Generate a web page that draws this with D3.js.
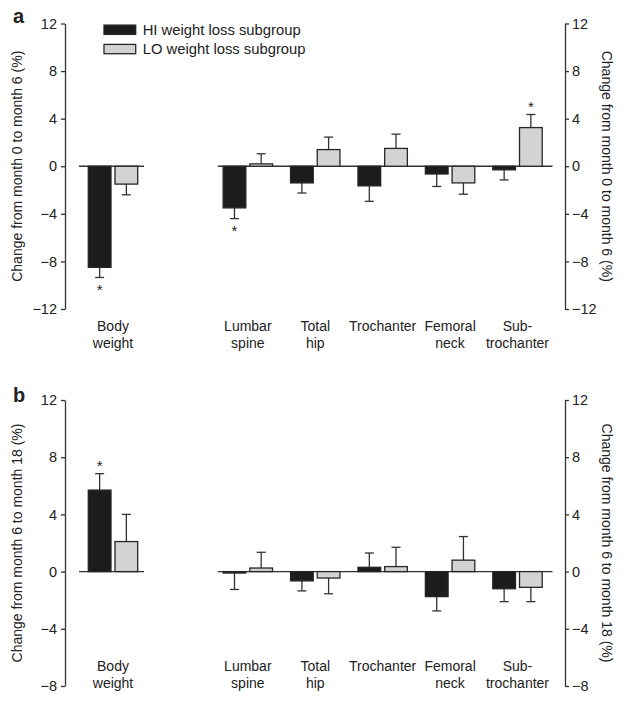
<!DOCTYPE html>
<html lang="en">
<head>
  <meta charset="UTF-8">
  <script src="https://cdnjs.cloudflare.com/ajax/libs/d3/7.8.5/d3.min.js"></script>
  <title>Weight loss subgroups</title>
  <style>
    body { margin: 0; background: #fff; }
    text { font-family: "Liberation Sans", Arial, Helvetica, sans-serif; fill: #222; }
  </style>
</head>
<body>
  <div id="chart"></div>
  <script>
    // categories (two-line labels) and where they sit on the slot axis (slot 1 is a gap)
    const categories = [['Body', 'weight'], ['Lumbar', 'spine'], ['Total', 'hip'], ['Trochanter'], ['Femoral', 'neck'], ['Sub-', 'trochanter']]
    const slots = [0, 2, 3, 4, 5, 6]
    const seriesNames = ['HI weight loss subgroup', 'LO weight loss subgroup']

    // panel a: month 0 -> 6
    const hiA = [-8.5, -3.5, -1.4, -1.65, -0.65, -0.3]
    const hiAse = [0.85, 0.9, 0.85, 1.3, 1.05, 0.85]
    const loA = [-1.5, 0.2, 1.4, 1.5, -1.4, 3.25]
    const loAse = [0.9, 0.85, 1.05, 1.2, 0.95, 1.1]
    const hiAstar = [1, 1, 0, 0, 0, 0]
    const loAstar = [0, 0, 0, 0, 0, 1]
    const ticksA = [-12, -8, -4, 0, 4, 8, 12]

    // panel b: month 6 -> 18
    const hiB = [5.7, -0.1, -0.65, 0.3, -1.75, -1.2]
    const hiBse = [1.15, 1.15, 0.7, 1.0, 1.0, 0.9]
    const loB = [2.1, 0.25, -0.45, 0.35, 0.8, -1.1]
    const loBse = [1.9, 1.1, 1.1, 1.35, 1.65, 1.0]
    const hiBstar = [1, 0, 0, 0, 0, 0]
    const loBstar = [0, 0, 0, 0, 0, 0]
    const ticksB = [-8, -4, 0, 4, 8, 12]

    const W = 624, H = 703
    const leftX = 65, rightX = 565
    const colors = ['#1c1c1c', '#d3d3d3']
    const barW = 22.7, innerGap = 2

    const svg = d3.select('#chart').append('svg')
      .attr('width', W).attr('height', H)

    const x = d3.scaleLinear().domain([0, 6]).range([113, 517.5])

    function panel(opts) {
      const g = svg.append('g')
      const y = d3.scaleLinear().domain(opts.domain).range(opts.range)
      const fmt = d => d3.format('d')(d)

      // left axis
      const la = g.append('g').attr('transform', `translate(${leftX},0)`)
        .call(d3.axisLeft(y).tickValues(opts.ticks).tickSize(4).tickSizeOuter(0).tickPadding(4).tickFormat(fmt))
      // right axis
      const ra = g.append('g').attr('transform', `translate(${rightX},0)`)
        .call(d3.axisRight(y).tickValues(opts.ticks).tickSize(4).tickSizeOuter(0).tickPadding(3).tickFormat(fmt))
      ;[la, ra].forEach(a => {
        a.selectAll('path, line').attr('stroke', '#333').attr('stroke-width', 1.3)
        a.selectAll('text').style('font-size', '14.5px').attr('fill', '#222')
      })

      const midY = (opts.range[0] + opts.range[1]) / 2
      g.append('text').attr('transform', `translate(17,${midY}) rotate(-90)`)
        .attr('text-anchor', 'middle').attr('dominant-baseline', 'central')
        .style('font-size', '14px').text(opts.title)
      g.append('text').attr('transform', `translate(607,${midY}) rotate(90)`)
        .attr('text-anchor', 'middle').attr('dominant-baseline', 'central')
        .style('font-size', '14px').text(opts.title)

      g.append('text').attr('x', 13).attr('y', opts.letterY)
        .style('font-size', '20px').style('font-weight', 'bold').attr('fill', '#111').text(opts.letter)

      // zero baselines (body weight alone, bone sites together)
      const y0 = y(0)
      g.append('line').attr('x1', x(slots[0]) - 34).attr('x2', x(slots[0]) + 31)
        .attr('y1', y0).attr('y2', y0).attr('stroke', '#333').attr('stroke-width', 1.3)
      g.append('line').attr('x1', x(slots[1]) - 30).attr('x2', x(slots[5]) + 35)
        .attr('y1', y0).attr('y2', y0).attr('stroke', '#333').attr('stroke-width', 1.3)

      const series = [
        { vals: opts.hi, se: opts.hiSe, star: opts.hiStar, off: -innerGap - barW },
        { vals: opts.lo, se: opts.loSe, star: opts.loStar, off: innerGap }
      ]
      series.forEach((s, si) => {
        s.vals.forEach((v, i) => {
          const bx = x(slots[i]) + s.off
          const cx = bx + barW / 2
          const end = v >= 0 ? v + s.se[i] : v - s.se[i]
          // error bar
          g.append('line').attr('x1', cx).attr('x2', cx).attr('y1', y(v)).attr('y2', y(end))
            .attr('stroke', '#333').attr('stroke-width', 1.3)
          g.append('line').attr('x1', cx - 4.5).attr('x2', cx + 4.5).attr('y1', y(end)).attr('y2', y(end))
            .attr('stroke', '#333').attr('stroke-width', 1.3)
          g.append('rect').attr('x', bx).attr('width', barW)
            .attr('y', y(Math.max(0, v))).attr('height', Math.abs(y(v) - y(0)))
            .attr('fill', colors[si]).attr('stroke', '#262626').attr('stroke-width', 1.3)
          if (s.star[i]) {
            const sc = v >= 0 ? y(end) - 10.5 : y(end) + 9.5
            g.append('text').attr('x', cx).attr('y', sc + 8).attr('text-anchor', 'middle')
              .style('font-size', '15px').text('*')
          }
        })
      })

      // category labels
      categories.forEach((lines, i) => {
        const t = g.append('text').attr('text-anchor', 'middle').style('font-size', '14px')
        lines.forEach((l, k) => {
          t.append('tspan').attr('x', x(slots[i])).attr('y', opts.labelY + k * 17).text(l)
        })
      })
    }

    panel({
      domain: [-12, 12], range: [309, 23.5], ticks: ticksA,
      hi: hiA, hiSe: hiAse, lo: loA, loSe: loAse, hiStar: hiAstar, loStar: loAstar,
      title: 'Change from month 0 to month 6 (%)', letter: 'a', letterY: 23, labelY: 331
    })
    panel({
      domain: [-8, 12], range: [686, 400], ticks: ticksB,
      hi: hiB, hiSe: hiBse, lo: loB, loSe: loBse, hiStar: hiBstar, loStar: loBstar,
      title: 'Change from month 6 to month 18 (%)', letter: 'b', letterY: 402, labelY: 671
    })

    // legend
    const legend = svg.append('g')
    seriesNames.forEach((n, i) => {
      const ly = 29.7 + i * 19.3
      legend.append('rect').attr('x', 104).attr('y', ly - 4.6).attr('width', 31.7).attr('height', 9.3)
        .attr('fill', colors[i]).attr('stroke', '#262626').attr('stroke-width', 1.3)
      legend.append('text').attr('x', 142.7).attr('y', ly).attr('dominant-baseline', 'central')
        .style('font-size', '14.8px').text(n)
    })
  </script>
</body>
</html>
